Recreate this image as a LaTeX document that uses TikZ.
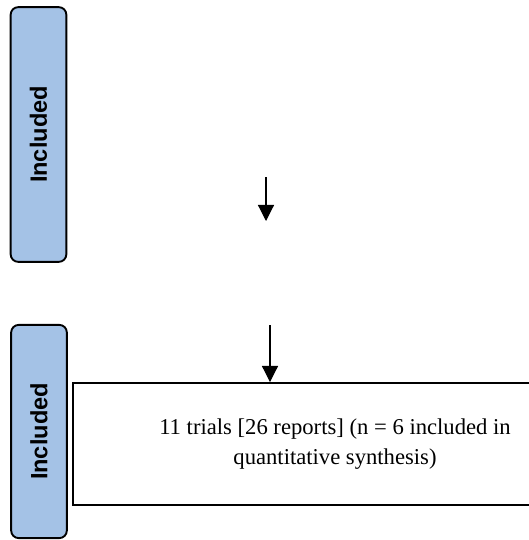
\documentclass[tikz,border=0pt]{standalone}
\usepackage{fontspec}
\setmainfont{Liberation Serif}
\setsansfont{Liberation Sans}
\usetikzlibrary{positioning,arrows.meta}
\definecolor{phaseblue}{RGB}{164,194,230}
\tikzset{
	phase/.style={draw=black, line width=1pt, rounded corners=4pt, fill=phaseblue, rotate=90, font=\sffamily\bfseries\fontsize{12.5}{14}\selectfont, minimum height=29.5pt, inner sep=0pt},
	flowbox/.style={draw=black, line width=1pt, align=center, font=\fontsize{12}{16}\selectfont, inner sep=0pt},
	flowarrow/.style={-{Triangle[length=8.5pt,width=8.5pt]}, line width=0.6pt}
}
\begin{document}
\begin{tikzpicture}[x=0.53pt, y=-0.53pt]
	\useasboundingbox (0,0) rectangle (529,540);
	% phase labels
	\node[phase, minimum width=135pt] (inc1) at (38.5,134.5) {Included};
	\node[phase, minimum width=113pt] (inc2) at (39,431.5) {Included};
	% box
	\node[flowbox, minimum width=277.7pt, minimum height=64.7pt] (trials) at (335,444) {11 trials [26 reports] (n = 6 included in\\quantitative synthesis)};
	% arrows
	\coordinate (a1) at (266,177);
	\coordinate (a1end) at (266,221);
	\coordinate (a2) at (270,325);
	\draw[flowarrow] (a1) -- (a1end);
	\draw[flowarrow] (a2) -- (a2 |- trials.north);
\end{tikzpicture}
\end{document}
